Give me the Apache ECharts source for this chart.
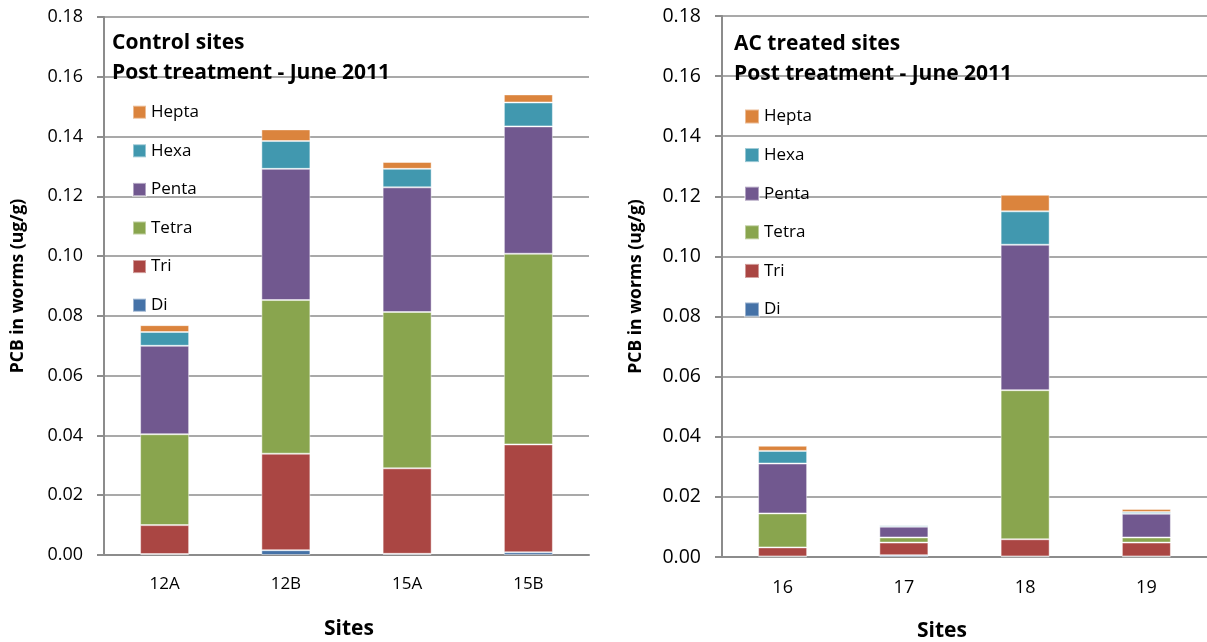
<!DOCTYPE html>
<html>
<head>
<meta charset="utf-8">
<script src="https://cdn.jsdelivr.net/npm/echarts@6/dist/echarts.min.js"></script>
<style>
  html, body { margin: 0; padding: 0; background: #fff; }
  #chart { width: 1207px; height: 642px; }
</style>
</head>
<body>
<div id="chart"></div>
<script>
// congeners, bottom to top of each stack
const congeners = ['Di', 'Tri', 'Tetra', 'Penta', 'Hexa', 'Hepta'];
const colors = ['#4572A7', '#AA4643', '#89A54E', '#71588F', '#4198AF', '#DB843D'];

// control sites
const controlSites = ['12A', '12B', '15A', '15B'];
const controlDi    = [0.0003, 0.0016, 0.0004, 0.0009];
const controlTri   = [0.0097, 0.0323, 0.0286, 0.0361];
const controlTetra = [0.0304, 0.0514, 0.0523, 0.0638];
const controlPenta = [0.0296, 0.0439, 0.0417, 0.0426];
const controlHexa  = [0.0046, 0.0093, 0.0062, 0.0080];
const controlHepta = [0.0023, 0.0039, 0.0023, 0.0027];

// AC treated sites
const acSites = ['16', '17', '18', '19'];
const acDi    = [0.0002, 0.0006, 0.0002, 0.0002];
const acTri   = [0.0030, 0.0042, 0.0057, 0.0046];
const acTetra = [0.0113, 0.0017, 0.0496, 0.0017];
const acPenta = [0.0166, 0.0036, 0.0484, 0.0079];
const acHexa  = [0.0042, 0.0005, 0.0111, 0.0006];
const acHepta = [0.0017, 0.0002, 0.0055, 0.0010];

const yTicks = { min: 0, max: 0.18, interval: 0.02 };

const controlData = [controlDi, controlTri, controlTetra, controlPenta, controlHexa, controlHepta];
const acData = [acDi, acTri, acTetra, acPenta, acHexa, acHepta];

const font = '"Open Sans", Lato, sans-serif';
const gridColor = '#8c8c8c';

function makeSeries(dataSets, idx, stack) {
  return congeners.map((name, i) => ({
    name: name,
    type: 'bar',
    stack: stack,
    xAxisIndex: idx,
    yAxisIndex: idx,
    barWidth: 49,
    itemStyle: { color: colors[i], borderColor: 'rgba(255,255,255,0.45)', borderWidth: 1 },
    data: dataSets[i]
  }));
}

function makeX(cats, idx, labelSize, margin) {
  return {
    type: 'category',
    gridIndex: idx,
    data: cats,
    axisLine: { lineStyle: { color: gridColor, width: 2 } },
    axisTick: { length: 7, lineStyle: { color: gridColor, width: 2 } },
    axisLabel: { color: '#000', fontSize: labelSize, fontFamily: font, margin: margin }
  };
}

function makeY(idx, labelSize) {
  return {
    type: 'value',
    gridIndex: idx,
    min: yTicks.min,
    max: yTicks.max,
    interval: yTicks.interval,
    name: 'PCB in worms (ug/g)',
    nameLocation: 'middle',
    nameGap: 77,
    nameTextStyle: { color: '#000', fontSize: 17.5, fontWeight: 'bold', fontFamily: font },
    axisLine: { show: true, lineStyle: { color: gridColor, width: 2 } },
    axisTick: { show: true, length: 7, lineStyle: { color: gridColor, width: 2 } },
    splitLine: { lineStyle: { color: gridColor, width: 1.5 } },
    axisLabel: {
      color: '#000', fontSize: labelSize, fontFamily: font, margin: 21,
      formatter: v => v.toFixed(2)
    }
  };
}

function makeLegend(left, top, size) {
  return {
    data: congeners.slice().reverse(),
    orient: 'vertical',
    left: left,
    top: top,
    padding: 0,
    icon: 'rect',
    itemWidth: size,
    itemHeight: size,
    itemGap: 37.6 - 16,
    textStyle: { color: '#000', fontSize: 17, fontFamily: font, lineHeight: 16, height: 16 }
  };
}

const chart = echarts.init(document.getElementById('chart'));
chart.setOption({
  animation: false,
  backgroundColor: '#fff',
  title: [
    { text: 'Control sites\nPost treatment - June 2011', left: 112, top: 28, padding: 0,
      textStyle: { fontSize: 21, fontWeight: 'bold', color: '#000', fontFamily: font, lineHeight: 30 } },
    { text: 'AC treated sites\nPost treatment - June 2011', left: 734, top: 29, padding: 0,
      textStyle: { fontSize: 21, fontWeight: 'bold', color: '#000', fontFamily: font, lineHeight: 30 } }
  ],
  legend: [makeLegend(132, 103.7, 13), makeLegend(744, 108, 14)],
  grid: [
    { left: 104, top: 17, width: 485, height: 538 },
    { left: 722, top: 16, width: 490, height: 541 }
  ],
  xAxis: [makeX(controlSites, 0, 17, 21), makeX(acSites, 1, 18, 22)],
  yAxis: [makeY(0, 18), makeY(1, 19.5)],
  graphic: [
    { type: 'text', x: 349, y: 629,
      style: { text: 'Sites', fontSize: 21, fontWeight: 'bold', fill: '#000', fontFamily: font,
               textAlign: 'center', textVerticalAlign: 'middle' } },
    { type: 'text', x: 942, y: 631,
      style: { text: 'Sites', fontSize: 21, fontWeight: 'bold', fill: '#000', fontFamily: font,
               textAlign: 'center', textVerticalAlign: 'middle' } }
  ],
  series: makeSeries(controlData, 0, 'control').concat(makeSeries(acData, 1, 'ac'))
});
</script>
</body>
</html>
